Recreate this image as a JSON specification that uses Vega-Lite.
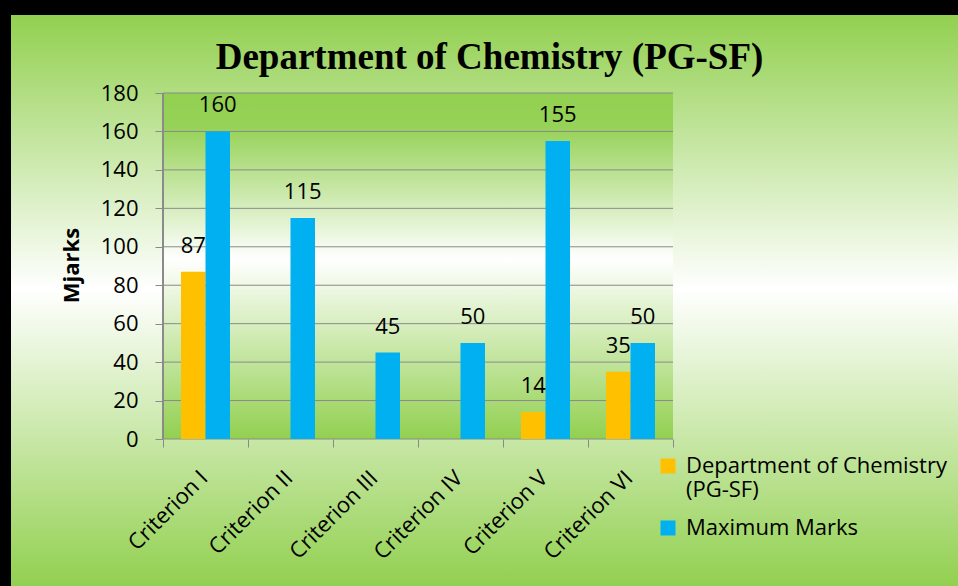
{
  "$schema": "https://vega.github.io/schema/vega-lite/v6.json",
  "width": 947,
  "height": 571,
  "autosize": {"type": "none"},
  "padding": {"left": 11, "top": 15, "right": 0, "bottom": 0},
  "background": "#000000",
  "view": {
    "stroke": null,
    "fill": {
      "gradient": "linear", "x1": 0, "y1": 0, "x2": 0, "y2": 1,
      "stops": [
        {"offset": 0, "color": "#92D050"},
        {"offset": 0.48, "color": "#FFFFFF"},
        {"offset": 1, "color": "#92D050"}
      ]
    }
  },
  "title": {
    "text": "Department of Chemistry (PG-SF)",
    "font": "Liberation Serif",
    "fontSize": 37,
    "fontWeight": "bold",
    "color": "#000000",
    "anchor": "middle",
    "frame": "group",
    "baseline": "alphabetic",
    "offset": -91,
    "dx": 5
  },
  "config": {
    "font": "Open Sans"
  },
  "datasets": {
    "marks": [
      {"criterion": "Criterion I", "series": "Department of Chemistry (PG-SF)", "marks": 87},
      {"criterion": "Criterion I", "series": "Maximum Marks", "marks": 160},
      {"criterion": "Criterion II", "series": "Maximum Marks", "marks": 115},
      {"criterion": "Criterion III", "series": "Maximum Marks", "marks": 45},
      {"criterion": "Criterion IV", "series": "Maximum Marks", "marks": 50},
      {"criterion": "Criterion V", "series": "Department of Chemistry (PG-SF)", "marks": 14},
      {"criterion": "Criterion V", "series": "Maximum Marks", "marks": 155},
      {"criterion": "Criterion VI", "series": "Department of Chemistry (PG-SF)", "marks": 35},
      {"criterion": "Criterion VI", "series": "Maximum Marks", "marks": 50}
    ],
    "gridlines": [
      {"tick": 0}, {"tick": 20}, {"tick": 40}, {"tick": 60}, {"tick": 80},
      {"tick": 100}, {"tick": 120}, {"tick": 140}, {"tick": 160}, {"tick": 180}
    ]
  },
  "layer": [
    {
      "data": {"name": "marks"},
      "transform": [{"aggregate": [{"op": "count", "as": "n"}], "groupby": ["criterion"]}],
      "mark": {
        "type": "rect",
        "strokeWidth": 0,
        "fill": {
          "gradient": "linear", "x1": 0, "y1": 0, "x2": 0, "y2": 1,
          "stops": [
            {"offset": 0, "color": "#92D050"},
            {"offset": 0.1, "color": "#96D258"},
            {"offset": 0.48, "color": "#FFFFFF"},
            {"offset": 1, "color": "#92D050"}
          ]
        }
      },
      "encoding": {
        "x": {"field": "criterion", "type": "nominal"},
        "y": {"datum": 0, "type": "quantitative"},
        "y2": {"datum": 180}
      }
    },
    {
      "data": {"name": "gridlines"},
      "mark": {"type": "rule", "color": "#8A8A8A", "strokeWidth": 1},
      "encoding": {
        "x": {"datum": "Criterion I", "type": "nominal", "bandPosition": 0},
        "x2": {"datum": "Criterion VI", "bandPosition": 1},
        "y": {"field": "tick", "type": "quantitative"}
      }
    },
    {
      "data": {"name": "gridlines"},
      "mark": {"type": "rule", "color": "#8A8A8A", "strokeWidth": 1},
      "encoding": {
        "x": {"datum": "Criterion I", "type": "nominal", "bandPosition": 0},
        "y": {"datum": 0, "type": "quantitative"},
        "y2": {"datum": 180}
      }
    },
    {
      "data": {"name": "marks"},
      "mark": {"type": "bar", "strokeWidth": 0},
      "encoding": {
        "x": {
          "field": "criterion",
          "type": "nominal",
          "scale": {
            "domain": ["Criterion I", "Criterion II", "Criterion III", "Criterion IV", "Criterion V", "Criterion VI"],
            "range": [152, 662],
            "paddingInner": 0,
            "paddingOuter": 0
          },
          "axis": {
            "title": null,
            "domain": false,
            "grid": false,
            "offset": -147,
            "tickBand": "extent",
            "tickSize": 8,
            "tickColor": "#8A8A8A",
            "labelAngle": -45,
            "labelAlign": "right",
            "labelBaseline": "top",
            "labelPadding": 20,
            "labelOffset": -9,
            "labelFont": "Open Sans",
            "labelFontSize": 22,
            "labelColor": "#000000"
          }
        },
        "xOffset": {
          "field": "series",
          "type": "nominal",
          "scale": {
            "domain": ["Department of Chemistry (PG-SF)", "Maximum Marks"],
            "paddingInner": 0,
            "paddingOuter": 0.7347
          }
        },
        "y": {
          "field": "marks",
          "type": "quantitative",
          "scale": {"domain": [-76.47, 220.58], "nice": false, "zero": false},
          "axis": {
            "title": "Mjarks",
            "values": [0, 20, 40, 60, 80, 100, 120, 140, 160, 180],
            "grid": false,
            "domain": false,
            "offset": -152,
            "tickSize": 8,
            "tickColor": "#8A8A8A",
            "labelFont": "Open Sans",
            "labelFontSize": 22,
            "labelColor": "#000000",
            "labelPadding": 17,
            "titleFont": "Open Sans",
            "titleFontSize": 22,
            "titleFontWeight": "bold",
            "titleColor": "#000000",
            "titlePadding": 17,
            "titleY": 250
          }
        },
        "color": {
          "field": "series",
          "type": "nominal",
          "scale": {
            "domain": ["Department of Chemistry (PG-SF)", "Maximum Marks"],
            "range": ["#FFC000", "#00B0F0"]
          },
          "legend": {
            "title": null,
            "orient": "none",
            "legendX": 646,
            "legendY": 440,
            "padding": 0,
            "rowPadding": 16,
            "symbolType": "square",
            "symbolSize": 225,
            "symbolStrokeWidth": 0,
            "labelFont": "Open Sans",
            "labelFontSize": 22,
            "labelColor": "#000000",
            "labelOffset": 7,
            "labelLimit": 400,
            "labelExpr": "datum.label == 'Department of Chemistry (PG-SF)' ? ['Department of Chemistry', '(PG-SF)'] : datum.label"
          }
        }
      }
    },
    {
      "data": {"name": "marks"},
      "mark": {"type": "text", "font": "Open Sans", "fontSize": 22, "color": "#000000", "baseline": "alphabetic", "dy": -19},
      "encoding": {
        "x": {"field": "criterion", "type": "nominal"},
        "xOffset": {"field": "series", "type": "nominal"},
        "y": {"field": "marks", "type": "quantitative"},
        "text": {"field": "marks", "type": "quantitative"}
      }
    }
  ]
}
